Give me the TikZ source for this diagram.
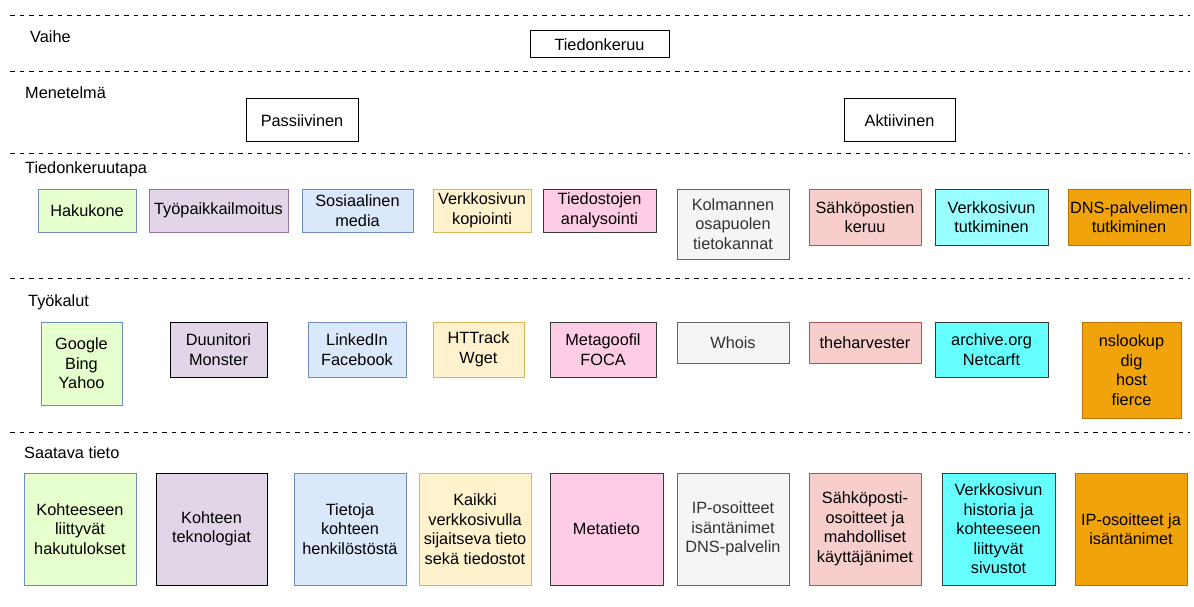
\documentclass[tikz,border=0pt]{standalone}
\usepackage{fontspec}
\setmainfont{Liberation Sans}
\definecolor{gF}{HTML}{E6FFCC}
\definecolor{bS}{HTML}{6C8EBF}
\definecolor{pF}{HTML}{E1D5E7}
\definecolor{pS}{HTML}{9673A6}
\definecolor{blF}{HTML}{DAE8FC}
\definecolor{yF}{HTML}{FFF2CC}
\definecolor{yS}{HTML}{D6B656}
\definecolor{pkF}{HTML}{FFCCE6}
\definecolor{dkS}{HTML}{36393D}
\definecolor{grF}{HTML}{F5F5F5}
\definecolor{grS}{HTML}{666666}
\definecolor{grT}{HTML}{333333}
\definecolor{rF}{HTML}{F8CECC}
\definecolor{rS}{HTML}{B85450}
\definecolor{cLF}{HTML}{99FFFF}
\definecolor{cF}{HTML}{66FFFF}
\definecolor{oF}{HTML}{F0A30A}
\definecolor{oS}{HTML}{BD7000}
\tikzset{
  box/.style={draw, line width=1pt, align=center, inner sep=0pt, font=\fontsize{16.3}{19.5}\selectfont},
  lbl/.style={anchor=west, inner sep=0pt, font=\fontsize{16.3}{19.5}\selectfont},
  sepline/.style={line width=1pt, dash pattern=on 4.5pt off 5pt},
  swhite/.style={fill=white, draw=black},
  sgreen/.style={fill=gF, draw=bS},
  spurple/.style={fill=pF, draw=pS},
  spurpleK/.style={fill=pF, draw=black},
  sblue/.style={fill=blF, draw=bS},
  syellow/.style={fill=yF, draw=yS},
  spink/.style={fill=pkF, draw=dkS},
  sgray/.style={fill=grF, draw=grS, text=grT},
  sred/.style={fill=rF, draw=rS},
  scyanL/.style={fill=cLF, draw=dkS},
  scyan/.style={fill=cF, draw=dkS},
  sorange/.style={fill=oF, draw=oS},
}
\newcommand\mybox[7]{\node[box,#6,minimum width={(#4-#2)*1pt},minimum height={(#5-#3)*1pt}] (#1) at ({(#2+#4)/2},{(#3+#5)/2}) {#7};}
\begin{document}
\begin{tikzpicture}[x=1pt,y=-1pt]
\useasboundingbox (0,0) rectangle (1194,607);
% separators
\foreach \yy in {15.5,72,154,278,432} \draw[sepline] (10,\yy) -- (1190,\yy);
% row labels
\node[lbl] (lv) at (30,37) {Vaihe};
\node[lbl] (lm) at (25,93) {Menetelmä};
\node[lbl] (lt) at (25,169) {Tiedonkeruutapa};
\node[lbl] (lk) at (28,302) {Työkalut};
\node[lbl] (ls) at (24,453) {Saatava tieto};
% row 0
\mybox{vaihe}{530}{31}{669}{58}{swhite}{Tiedonkeruu}
% row 1
\mybox{pass}{246}{99}{358}{142}{swhite}{Passiivinen}
\mybox{akt}{844}{99}{955}{142}{swhite}{Aktiivinen}
% row 2
\mybox{t1}{38}{189}{136}{232}{sgreen}{Hakukone}
\mybox{t2}{149}{189}{288}{232}{spurple}{Työpaikkailmoitus}
\mybox{t3}{302}{189}{413}{232}{sblue}{Sosiaalinen\\media}
\mybox{t4}{433}{189}{531}{232}{syellow}{Verkkosivun\\kopiointi}
\mybox{t5}{543}{189}{656}{232}{spink}{Tiedostojen\\analysointi}
\mybox{t6}{677}{189}{789}{259}{sgray}{Kolmannen\\osapuolen\\tietokannat}
\mybox{t7}{809}{189}{921}{245}{sred}{Sähköpostien\\keruu}
\mybox{t8}{935}{189}{1048}{245}{scyanL}{Verkkosivun\\tutkiminen}
\mybox{t9}{1068}{189}{1190}{245}{sorange}{DNS-palvelimen\\tutkiminen}
% row 3
\mybox{k1}{41}{322}{122}{405}{sgreen}{Google\\Bing\\Yahoo}
\mybox{k2}{170}{322}{267}{377}{spurpleK}{Duunitori\\Monster}
\mybox{k3}{308}{322}{406}{377}{sblue}{LinkedIn\\Facebook}
\mybox{k4}{433}{322}{524}{377}{syellow}{HTTrack\\Wget}
\mybox{k5}{550}{322}{656}{377}{spink}{Metagoofil\\FOCA}
\mybox{k6}{677}{322}{789}{363}{sgray}{Whois}
\mybox{k7}{809}{322}{921}{363}{sred}{theharvester}
\mybox{k8}{935}{322}{1048}{377}{scyan}{archive.org\\Netcarft}
\mybox{k9}{1082}{322}{1181}{418}{sorange}{nslookup\\dig\\host\\fierce}
% row 4
\mybox{s1}{24}{473}{136}{585}{sgreen}{Kohteeseen\\liittyvät\\hakutulokset}
\mybox{s2}{156}{473}{267}{585}{spurpleK}{Kohteen\\teknologiat}
\mybox{s3}{294}{473}{406}{585}{sblue}{Tietoja\\kohteen\\henkilöstöstä}
\mybox{s4}{419}{473}{531}{585}{syellow}{Kaikki\\verkkosivulla\\sijaitseva tieto\\sekä tiedostot}
\mybox{s5}{550}{473}{663}{585}{spink}{Metatieto}
\mybox{s6}{677}{473}{789}{585}{sgray}{IP-osoitteet\\isäntänimet\\DNS-palvelin}
\mybox{s7}{809}{473}{921}{585}{sred}{Sähköposti-\\osoitteet ja\\mahdolliset\\käyttäjänimet}
\mybox{s8}{942}{473}{1055}{585}{scyan}{Verkkosivun\\historia ja\\kohteeseen\\liittyvät\\sivustot}
\mybox{s9}{1075}{473}{1187}{585}{sorange}{IP-osoitteet ja\\isäntänimet}
\end{tikzpicture}
\end{document}
